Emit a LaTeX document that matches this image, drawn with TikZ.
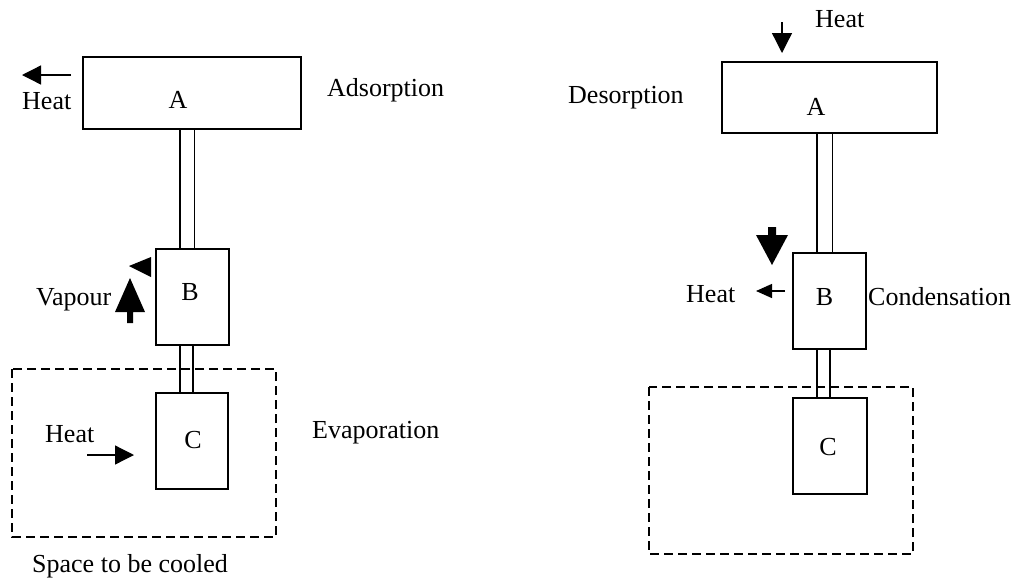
\documentclass[tikz,border=0pt]{standalone}
\usepackage{fontspec}
\setmainfont{Liberation Serif}
\usetikzlibrary{arrows.meta}
\begin{document}
\begin{tikzpicture}[x=1pt,y=-1pt,
  box/.style={draw,line width=2.3pt,inner sep=0pt,rectangle},
  pipe/.style={line width=1.3pt},
  space/.style={draw,line width=2.3pt,dash pattern=on 9pt off 5pt},
  txt/.style={anchor=base west,inner sep=0pt,font=\fontsize{26}{30}\selectfont},
  lbl/.style={inner sep=0pt,font=\fontsize{26}{30}\selectfont},
  heat/.style={line width=1.3pt,-{Triangle[length=19pt,width=19pt]}},
  smallheat/.style={line width=1.3pt,-{Triangle[length=16pt,width=14pt]}}]
\useasboundingbox (0,0) rectangle (1021,579);

% ---------- left: adsorption ----------
\node[box,minimum width=218pt,minimum height=72pt] (A1) at (192,93) {};
\node[box,minimum width=73pt,minimum height=96pt] (B1) at (192.5,297) {};
\node[box,minimum width=72pt,minimum height=96pt] (C1) at (192,441) {};
\node[lbl] (A1l) at (178,100) {A};
\node[lbl] (B1l) at (190,292.5) {B};
\node[lbl] (C1l) at (193,440) {C};

\draw[pipe] ([xshift=-12pt]A1.south) -- ([xshift=-12pt]A1.south |- B1.north);
\draw[pipe] ([xshift=2.5pt]A1.south) -- ([xshift=2.5pt]A1.south |- B1.north);
\draw[pipe] ([xshift=-12.5pt]B1.south) -- ([xshift=-12.5pt]B1.south |- C1.north);
\draw[pipe] ([xshift=0.5pt]B1.south) -- ([xshift=0.5pt]B1.south |- C1.north);

\draw[space] (12,369) rectangle (276,537);

\coordinate (h1s) at (71,75);
\coordinate (h1e) at (22,75);
\draw[heat] (h1s) -- (h1e);
\coordinate (h2s) at (87,455);
\coordinate (h2e) at (134,455);
\draw[heat] (h2s) -- (h2e);

\fill (129,266) -- (151,257) -- (151,277) -- cycle;
\fill (127,323) -- (127,312) -- (115,312) -- (130,278) -- (145,312) -- (133,312) -- (133,323) -- cycle;

\node[txt] (t1) at (22,109) {Heat};
\node[txt] (t2) at (327,96) {Adsorption};
\node[txt] (t3) at (36,305) {Vapour};
\node[txt] (t4) at (45,442) {Heat};
\node[txt] (t5) at (312,438) {Evaporation};
\node[txt] (t6) at (32,572) {Space to be cooled};

% ---------- right: desorption ----------
\node[box,minimum width=215pt,minimum height=71pt] (A2) at (829.5,97.5) {};
\node[box,minimum width=73pt,minimum height=96pt] (B2) at (829.5,301) {};
\node[box,minimum width=74pt,minimum height=96pt] (C2) at (830,446) {};
\node[lbl] (A2l) at (816,107) {A};
\node[lbl] (B2l) at (824.5,297.5) {B};
\node[lbl] (C2l) at (828,447) {C};

\draw[pipe] ([xshift=-12.5pt]A2.south) -- ([xshift=-12.5pt]A2.south |- B2.north);
\draw[pipe] ([xshift=3pt]A2.south) -- ([xshift=3pt]A2.south |- B2.north);
\draw[pipe] ([xshift=-12.5pt]B2.south) -- ([xshift=-12.5pt]B2.south |- C2.north);
\draw[pipe] ([xshift=0.5pt]B2.south) -- ([xshift=0.5pt]B2.south |- C2.north);

\draw[space] (649,387) rectangle (913,554);

\coordinate (h3s) at (782,22);
\coordinate (h3e) at (782,53);
\draw[heat,-{Triangle[length=20pt,width=20pt]}] (h3s) -- (h3e);
\coordinate (h4s) at (785,291);
\coordinate (h4e) at (756,291);
\draw[smallheat] (h4s) -- (h4e);

\fill (768,227) -- (776,227) -- (776,235) -- (788,235) -- (772,265) -- (756,235) -- (768,235) -- cycle;

\node[txt] (t7) at (815,27) {Heat};
\node[txt] (t8) at (568,103) {Desorption};
\node[txt] (t9) at (686,302) {Heat};
\node[txt] (t10) at (868,305) {Condensation};
\end{tikzpicture}
\end{document}
